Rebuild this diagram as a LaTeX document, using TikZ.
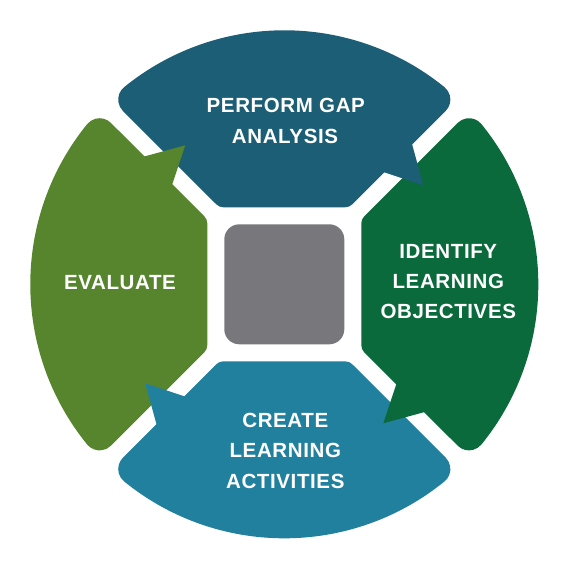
\documentclass[tikz,border=0pt]{standalone}
\usepackage{fontspec}
\setmainfont{Liberation Sans}[LetterSpace=3.0]
\definecolor{topc}{HTML}{1B5E75}
\definecolor{rightc}{HTML}{0B6A3B}
\definecolor{botc}{HTML}{22809F}
\definecolor{leftc}{HTML}{56852D}
\definecolor{grayc}{HTML}{78777B}
\begin{document}
\begin{tikzpicture}[x=1pt,y=1pt,
  lbl/.style={text=white, font=\bfseries\fontsize{20.5}{24}\selectfont, anchor=base, inner sep=0pt}]
\useasboundingbox (-284.3,-285.7) rectangle (285.7,284.3);
% segment bodies
\foreach \ang/\col in {0/topc, -90/rightc, -180/botc, 90/leftc} {
  \fill[\col, rotate=\ang] (-60.86,77) -- (60.86,77)
    arc[start angle=-90, end angle=-45, radius=10pt] -- (161.4,173.4)
    arc[start angle=-45, end angle=50.9, radius=16pt]
    arc[start angle=50.9, end angle=129.1, radius=254pt]
    arc[start angle=129.1, end angle=225, radius=16pt] -- (-67.93,79.93)
    arc[start angle=225, end angle=270, radius=10pt] -- cycle;
}
% arrow tips
\foreach \ang/\col in {0/topc, -90/rightc, -180/botc, 90/leftc} {
  \fill[\col, rotate=\ang] (97,113) -- (139,99) -- (127,143) -- cycle;
}
% centre square
\node[fill=grayc, minimum size=120pt, inner sep=0pt, rounded corners=15pt] (hub) at (0,0) {};
% labels
\node[lbl] (t1a) at (1.5,171.3) {PERFORM GAP};
\node[lbl] (t1b) at (0.7,140.3) {ANALYSIS};
\node[lbl] (t2a) at (164,26.3) {IDENTIFY};
\node[lbl] (t2b) at (164,-3.7) {LEARNING};
\node[lbl] (t2c) at (164,-33.7) {OBJECTIVES};
\node[lbl] (t3a) at (1,-142.7) {CREATE};
\node[lbl] (t3b) at (1,-172.7) {LEARNING};
\node[lbl] (t3c) at (1,-203.7) {ACTIVITIES};
\node[lbl] (t4a) at (-164.3,-4.7) {EVALUATE};
\end{tikzpicture}
\end{document}
